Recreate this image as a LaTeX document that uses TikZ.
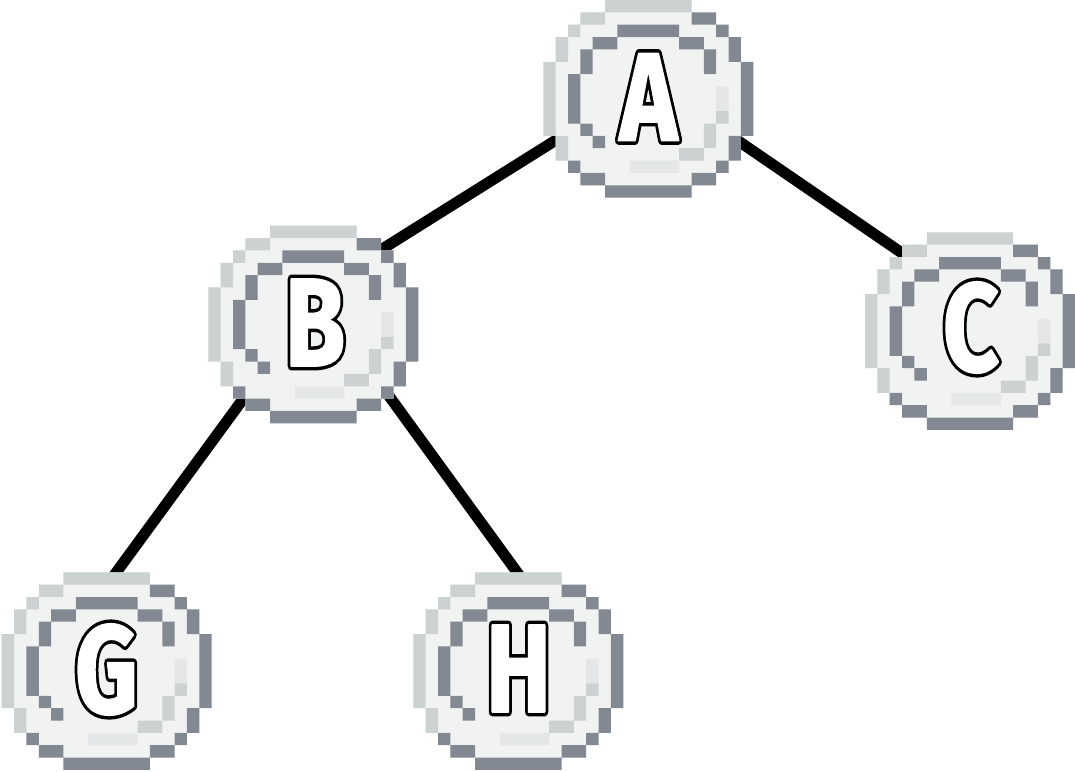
\documentclass[tikz,border=0pt]{standalone}
\usepackage{graphicx}
\usepackage{fontspec}
\newfontfamily\lettblack{Fira Sans Bold}[FakeBold=7.4]
\newfontfamily\lettwhite{Fira Sans Bold}[FakeBold=1.8]
\definecolor{pxL}{RGB}{204,209,209}
\definecolor{pxD}{RGB}{130,137,146}
\definecolor{pxF}{RGB}{241,243,243}
\definecolor{pxH}{RGB}{228,231,232}
\tikzset{
  edge/.style={line width=11pt, draw=black},
  lettk/.style={inner sep=0pt, text=black, font={\lettblack\fontsize{125pt}{125pt}\selectfont}},
  lettw/.style={inner sep=0pt, text=white, font={\lettwhite\fontsize{125pt}{125pt}\selectfont}},
  hub/.style={circle, inner sep=0pt, minimum size=197pt}
}
\newcommand\pixnode[3]{%
\begin{scope}[shift={(#2,#3)},x=12.35pt,y=-12.35pt]
\fill[pxF] (5,0) -| (12,1) -| (14,2) -| (15,3) -| (16,5) -| (17,11) -| (16,13) -| (15,14) -| (14,15) -| (12,16) -| (5,15) -| (3,14) -| (2,13) -| (1,11) -| (0,5) -| (1,3) -| (2,2) -| (3,1) -| (5,0) -- cycle;
\fill[pxL] (5,0) rectangle (12,1) (3,1) rectangle (5,2) (2,2) rectangle (3,3) (1,3) rectangle (2,5) (0,5) rectangle (1,11) (1,11) rectangle (2,13);
\fill[pxD] (12,1) rectangle (14,2) (14,2) rectangle (15,3) (15,3) rectangle (16,5) (16,5) rectangle (17,11) (15,11) rectangle (16,13) (14,13) rectangle (15,14) (12,14) rectangle (14,15) (5,15) rectangle (12,16) (3,14) rectangle (5,15) (2,13) rectangle (3,14);
\fill[pxD] (6,2) rectangle (11,3) (4,3) rectangle (6,4) (11,3) rectangle (13,4) (3,4) rectangle (4,6) (13,4) rectangle (14,6) (2,6) rectangle (3,10) (3,10) rectangle (4,11) (4,11) rectangle (5,12);
\fill[pxH] (14,7) rectangle (15,9) (7,13) rectangle (11,14);
\fill[pxL] (14,9) rectangle (15,10) (13,10) rectangle (14,12) (11,12) rectangle (13,13);
\node[hub] (#1) at (8.5,8) {};
\end{scope}}
\newcommand\pixletter[4]{%
\node[lettk] (#1k) at (#2,#3) {\scalebox{0.78}[1]{#4}};
\node[lettw] (#1w) at (#2,#3) {\scalebox{0.78}[1]{#4}};}
\begin{document}
\begin{tikzpicture}[x=1pt,y=-1pt,line join=round]
\useasboundingbox (0,0) rectangle (1075,771);
% connector ports
\coordinate (pA) at (650.5,80.8);
\coordinate (pBa) at (340,275.5);
\coordinate (pCa) at (940,279.1);
\coordinate (pBg) at (257,380);
\coordinate (pG) at (88.7,610);
\coordinate (pBh) at (377.4,380);
\coordinate (pH) at (544.5,610);
\draw[edge] (pA) -- (pBa);
\draw[edge] (pA) -- (pCa);
\draw[edge] (pBg) -- (pG);
\draw[edge] (pBh) -- (pH);
% nodes
\pixnode{A}{543.3}{0}
\pixnode{B}{208.3}{225.7}
\pixnode{C}{865}{232.3}
\pixnode{G}{1.7}{572.3}
\pixnode{H}{413.3}{572.3}
\pixletter{A}{648.5}{97}{A}
\pixletter{B}{315}{322.5}{B}
\pixletter{C}{971}{327.5}{C}
\pixletter{G}{106.5}{669.5}{G}
\pixletter{H}{518.5}{668.5}{H}
\end{tikzpicture}
\end{document}
